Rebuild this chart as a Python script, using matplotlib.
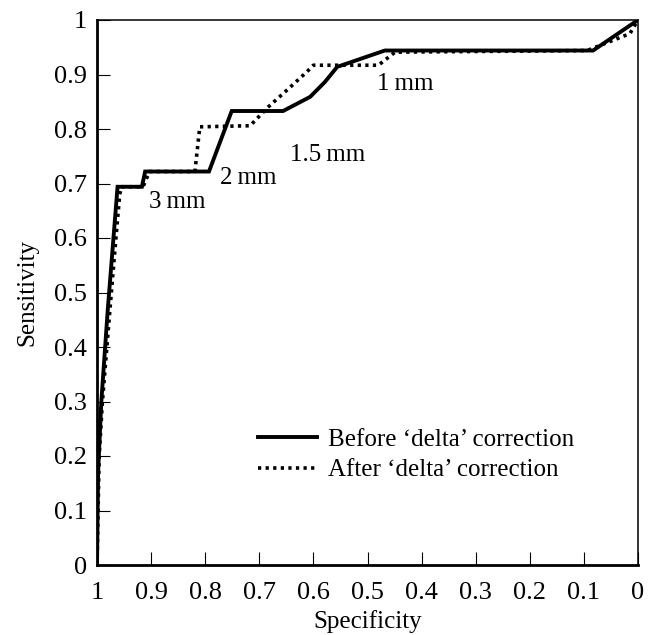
import matplotlib.pyplot as plt

# ROC data (specificity runs from 1 down to 0)
spec_before = [1.0, 0.998, 0.992, 0.98, 0.962, 0.917, 0.911, 0.793, 0.751,
               0.656, 0.606, 0.579, 0.556, 0.468, 0.083, 0.0]
sens_before = [0.0, 0.17, 0.30, 0.47, 0.694, 0.694, 0.722, 0.722, 0.833,
               0.833, 0.859, 0.886, 0.914, 0.944, 0.944, 1.0]

spec_after = [1.0, 0.996, 0.99, 0.976, 0.965, 0.958, 0.955, 0.915, 0.903,
              0.819, 0.81, 0.717, 0.684, 0.647, 0.612, 0.6, 0.48, 0.449,
              0.094, 0.015, 0.0]
sens_after = [0.0, 0.20, 0.30, 0.47, 0.60, 0.68, 0.694, 0.694, 0.722,
              0.722, 0.804, 0.806, 0.84, 0.873, 0.905, 0.917, 0.917, 0.941,
              0.944, 0.975, 1.0]

series_names = ["Before \u2018delta\u2019 correction", "After \u2018delta\u2019 correction"]
threshold_labels = ["3\u2009mm", "2\u2009mm", "1.5\u2009mm", "1\u2009mm"]
ticks = [0, 0.1, 0.2, 0.3, 0.4, 0.5, 0.6, 0.7, 0.8, 0.9, 1]
tick_labels = ["0", "0.1", "0.2", "0.3", "0.4", "0.5", "0.6", "0.7", "0.8", "0.9", "1"]

plt.rcParams['font.family'] = ['Liberation Serif', 'DejaVu Serif']

fig = plt.figure(figsize=(6.5, 6.35), dpi=100)
ax = fig.add_axes([97 / 650, 70 / 635, 541 / 650, 545 / 635])

ax.plot(spec_before, sens_before, color='black', lw=2.8,
        solid_joinstyle='miter', label=series_names[0], zorder=3)
ax.plot(spec_after, sens_after, color='black', lw=2.6,
        linestyle=(0, (0.9, 1.2)), label=series_names[1], zorder=2)

ax.set_xlim(1, 0)
ax.set_ylim(0, 1)
ax.set_xticks(ticks)
ax.set_xticklabels(tick_labels)
ax.set_yticks(ticks)
ax.set_yticklabels(tick_labels)
ax.tick_params(direction='in', length=9.5, width=0.8, labelsize=19, pad=7)
ax.tick_params(axis='x', pad=12)

for side in ['left', 'bottom']:
    ax.spines[side].set_linewidth(2.0)
for side in ['top', 'right']:
    ax.spines[side].set_linewidth(1.1)

ax.set_xlabel('Specificity', fontsize=18)
ax.set_ylabel('Sensitivity', fontsize=18)
ax.xaxis.set_label_coords(0.5, -0.083)
ax.yaxis.set_label_coords(-0.109, 0.5)

# threshold labels next to the curve
label_pos = [(0.852, 0.666), (0.721, 0.71), (0.573, 0.752), (0.431, 0.883)]
for txt, (x, y) in zip(threshold_labels, label_pos):
    ax.text(x, y, txt, fontsize=18, ha='center', va='center')

ax.legend(loc='center left', bbox_to_anchor=(0.298, 0.202), frameon=False,
          fontsize=18, handlelength=2.35, handletextpad=0.45, labelspacing=0.32,
          borderpad=0, borderaxespad=0)

fig.savefig('out.png', dpi=100)
